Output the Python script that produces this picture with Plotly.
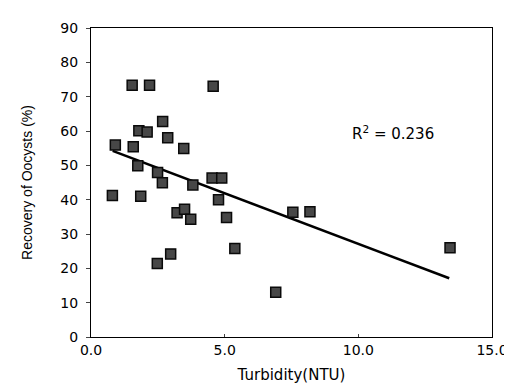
import numpy as np
import plotly.graph_objects as go

turbidity = [0.80, 0.91, 1.54, 1.58, 1.79, 1.75, 1.86, 2.10, 2.19, 2.49, 2.48, 2.68,
             2.67, 2.87, 2.98, 3.22, 3.47, 3.50, 3.73, 3.81, 4.57, 4.53, 4.77, 4.89,
             5.07, 5.38, 6.91, 7.55, 8.19, 13.43]
recovery = [41.2, 55.9, 73.3, 55.4, 60.1, 49.9, 41.0, 59.7, 73.3, 47.9, 21.4, 62.8,
            44.9, 58.0, 24.2, 36.2, 54.9, 37.2, 34.3, 44.3, 73.0, 46.3, 40.0, 46.3,
            34.8, 25.8, 13.0, 36.3, 36.5, 26.0]

trend_x = [0.81, 13.4]
trend_y = [54.2, 17.1]

x_ticks = [0, 5, 10, 15]
x_tick_labels = ["0.0", "5.0", "10.0", "15.0"]
y_ticks = [0, 10, 20, 30, 40, 50, 60, 70, 80, 90]

fig = go.Figure()
fig.add_trace(go.Scatter(
    x=trend_x, y=trend_y, mode="lines",
    line=dict(color="black", width=2.5), showlegend=False))
fig.add_trace(go.Scatter(
    x=turbidity, y=recovery, mode="markers",
    marker=dict(symbol="square", size=10, color="#474747",
                line=dict(color="#0a0a0a", width=1.5)),
    showlegend=False))

fig.add_annotation(x=11.3, y=59.3, text="R<sup>2</sup> = 0.236", showarrow=False,
                   font=dict(family="DejaVu Sans", size=15, color="black"))

fig.update_layout(
    width=512, height=385,
    margin=dict(l=83, r=21, t=15, b=56),
    paper_bgcolor="white", plot_bgcolor="white",
    font=dict(family="DejaVu Sans", size=14, color="black"),
    xaxis=dict(range=[0, 15], tickvals=x_ticks, ticktext=x_tick_labels,
               showline=True, linecolor="black", linewidth=1, mirror=True,
               ticks="inside", ticklen=3, showgrid=False, zeroline=False,
               tickfont=dict(size=14),
               title=dict(text="Turbidity(NTU)", font=dict(size=15), standoff=12)),
    yaxis=dict(range=[0, 90], tickvals=y_ticks,
               showline=True, linecolor="black", linewidth=1, mirror=True,
               ticks="outside", ticklen=4, ticklabelstandoff=5,
               showgrid=False, zeroline=False, tickfont=dict(size=14),
               title=dict(text="Recovery of Oocysts (%)",
                          font=dict(family="Liberation Sans, Arial", size=14),
                          standoff=24)),
)

fig.write_html("out.html")
